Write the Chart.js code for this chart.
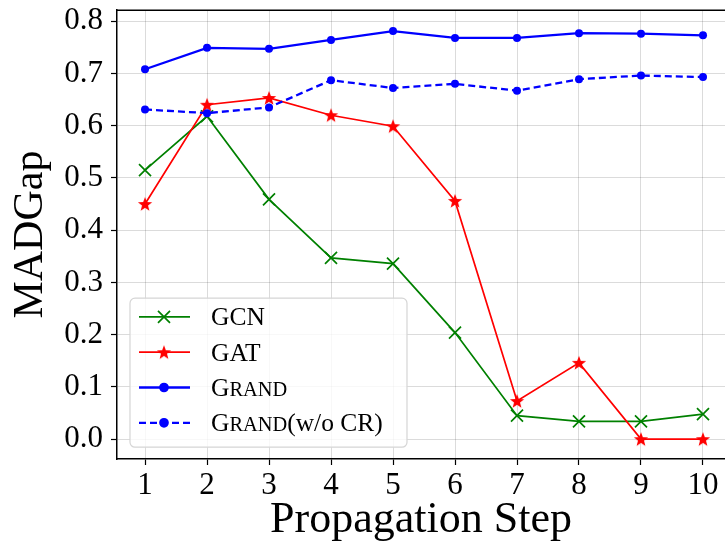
<!DOCTYPE html>
<html lang="en">
<head>
<meta charset="UTF-8">
<title>MADGap</title>
<script src="https://cdn.jsdelivr.net/npm/chart.js@4.4.1/dist/chart.umd.min.js"></script>
<style>
    html, body {margin: 0; padding: 0; background: #fff; overflow: hidden;}
    #box {position: absolute; left: 0; top: 0; width: 725px; height: 552px;}
</style>
</head>
<body>
<div id="box"><canvas id="chart" width="725" height="552"></canvas></div>
<script>
    // data
    const steps = [1, 2, 3, 4, 5, 6, 7, 8, 9, 10];
    const yTicks = [0, 0.1, 0.2, 0.3, 0.4, 0.5, 0.6, 0.7, 0.8];
    const seriesNames = ['GCN', 'GAT', 'G{RAND}', 'G{RAND}(w/o CR)'];
    const gcn = [0.515, 0.618, 0.459, 0.347, 0.336, 0.204, 0.045, 0.034, 0.034, 0.048];
    const gat = [0.450, 0.640, 0.653, 0.620, 0.599, 0.456, 0.073, 0.146, 0.0, 0.0];
    const grand = [0.708, 0.749, 0.747, 0.764, 0.781, 0.768, 0.768, 0.777, 0.776, 0.773];
    const grandNoCR = [0.631, 0.624, 0.635, 0.687, 0.672, 0.680, 0.667, 0.689, 0.696, 0.693];

    const FONT = "'Liberation Serif', 'DejaVu Serif', serif";

    // filled 5-point star like matplotlib '*'
    function starMarker(size, color) {
        const c = document.createElement('canvas');
        c.width = c.height = size;
        const g = c.getContext('2d');
        const R = size / 2 - 0.5, r = R * 0.42, m = size / 2;
        g.beginPath();
        for (let i = 0; i < 10; i++) {
            const a = -Math.PI / 2 + i * Math.PI / 5;
            const rr = i % 2 ? r : R;
            g.lineTo(m + rr * Math.cos(a), m + 0.6 + rr * Math.sin(a));
        }
        g.closePath();
        g.fillStyle = color;
        g.fill();
        return c;
    }
    const star = starMarker(16, '#ff0000');

    function pts(arr) {
        return arr.map((v, i) => ({x: steps[i], y: v}));
    }

    const datasets = [
        {label: seriesNames[0], data: pts(gcn), borderColor: '#008000', backgroundColor: '#008000',
            borderWidth: 1.7, pointStyle: 'crossRot', pointRadius: 8.5, pointBorderWidth: 1.7, order: 3},
        {label: seriesNames[1], data: pts(gat), borderColor: '#ff0000', backgroundColor: '#ff0000',
            borderWidth: 1.7, pointStyle: star, pointRadius: 8, order: 2},
        {label: seriesNames[2], data: pts(grand), borderColor: '#0000ff', backgroundColor: '#0000ff',
            borderWidth: 2.3, pointStyle: 'circle', pointRadius: 4, pointBorderWidth: 0, order: 1},
        {label: seriesNames[3], data: pts(grandNoCR), borderColor: '#0000ff', backgroundColor: '#0000ff',
            borderWidth: 2.3, borderDash: [7, 4], pointStyle: 'circle', pointRadius: 4, pointBorderWidth: 0, order: 0}
    ];

    // text with {..} parts drawn as small caps
    function drawSmallCaps(ctx, text, x, y, size) {
        const parts = text.split(/([{}])/);
        let sc = false;
        for (const p of parts) {
            if (p === '{') { sc = true; continue; }
            if (p === '}') { sc = false; continue; }
            if (!p) continue;
            ctx.font = (sc ? size * 0.8 : size) + 'px ' + FONT;
            ctx.fillText(p, x, y);
            x += ctx.measureText(p).width;
        }
        return x;
    }

    // matplotlib-like legend box: line sample + marker + label
    const legendBox = {
        id: 'legendBox',
        afterDraw(chart) {
            const ctx = chart.ctx, area = chart.chartArea;
            const size = 25.5, rowH = 35.3;
            const left = area.left + 13, top = area.top + 288;
            const w = 277, h = 149;
            ctx.save();
            ctx.beginPath();
            ctx.roundRect(left, top, w, h, 5);
            ctx.fillStyle = 'rgba(255,255,255,0.8)';
            ctx.fill();
            ctx.strokeStyle = '#d5d5d5';
            ctx.lineWidth = 1.2;
            ctx.stroke();
            chart.data.datasets.forEach((ds, i) => {
                const cy = top + 18.7 + i * rowH;
                ctx.beginPath();
                ctx.setLineDash(ds.borderDash || []);
                ctx.strokeStyle = ds.borderColor;
                ctx.lineWidth = ds.borderWidth;
                ctx.moveTo(left + 9, cy);
                ctx.lineTo(left + 60, cy);
                ctx.stroke();
                ctx.setLineDash([]);
                ctx.fillStyle = ds.backgroundColor;
                ctx.lineWidth = ds.pointBorderWidth || 1.7;
                Chart.helpers.drawPoint(ctx, {
                    pointStyle: ds.pointStyle, radius: ds.pointRadius,
                    borderWidth: ds.pointBorderWidth || 1.7, rotation: 0
                }, left + 34, cy);
                ctx.fillStyle = '#000';
                ctx.textBaseline = 'alphabetic';
                drawSmallCaps(ctx, ds.label, left + 81, cy + 8.5, size);
            });
            ctx.restore();
        }
    };

    // right spine is cut off in the original, so the plot runs to the canvas edge
    const fullRight = {
        id: 'fullRight',
        afterLayout(chart) {
            const a = chart.chartArea, x = chart.scales.x;
            a.right = chart.width;
            a.width = a.right - a.left;
            x.right = a.right;
            x.width = a.width;
            x.configure();
        }
    };

    const topSpine = {
        id: 'topSpine',
        afterDraw(chart) {
            const ctx = chart.ctx, a = chart.chartArea;
            ctx.save();
            ctx.strokeStyle = '#000';
            ctx.lineWidth = 1.5;
            ctx.beginPath();
            ctx.moveTo(a.left, a.top);
            ctx.lineTo(a.right, a.top);
            ctx.stroke();
            ctx.restore();
        }
    };

    const grid = {color: 'rgba(0,0,0,0.18)', lineWidth: 0.8, borderDash: [2, 2],
        tickColor: '#000', tickLength: 6, tickWidth: 1.2, tickBorderDash: []};

    new Chart(document.getElementById('chart'), {
        type: 'line',
        data: {datasets: datasets},
        options: {
            responsive: false,
            animation: false,
            events: [],
            layout: {padding: {top: 9, right: 0, left: 0, bottom: 0}},
            plugins: {legend: {display: false}, tooltip: {enabled: false}},
            elements: {line: {tension: 0}},
            scales: {
                x: {
                    type: 'linear', min: 0.548, max: 10.355,
                    afterBuildTicks: s => { s.ticks = steps.map(v => ({value: v})); },
                    afterFit: s => { s.height = 93; s.paddingLeft = 0; s.paddingRight = 0; },
                    grid: grid,
                    border: {color: '#000', width: 1.5},
                    ticks: {font: {family: FONT, size: 31}, color: '#000', padding: 2, maxRotation: 0,
                        callback: v => String(v)},
                    title: {display: true, text: 'Propagation Step', color: '#000',
                        font: {family: FONT, size: 44}, padding: {top: 0, bottom: 5}}
                },
                y: {
                    min: -0.038, max: 0.821,
                    afterBuildTicks: s => { s.ticks = yTicks.map(v => ({value: v})); },
                    afterFit: s => { s.width = 117; s.paddingTop = 0; s.paddingBottom = 0; },
                    grid: grid,
                    border: {color: '#000', width: 1.5},
                    ticks: {font: {family: FONT, size: 31}, color: '#000', padding: 8,
                        callback: v => v.toFixed(1)},
                    title: {display: true, text: 'MADGap', color: '#000',
                        font: {family: FONT, size: 42}, padding: {top: 6, bottom: 0}}
                }
            }
        },
        plugins: [fullRight, legendBox, topSpine]
    });
</script>
</body>
</html>
